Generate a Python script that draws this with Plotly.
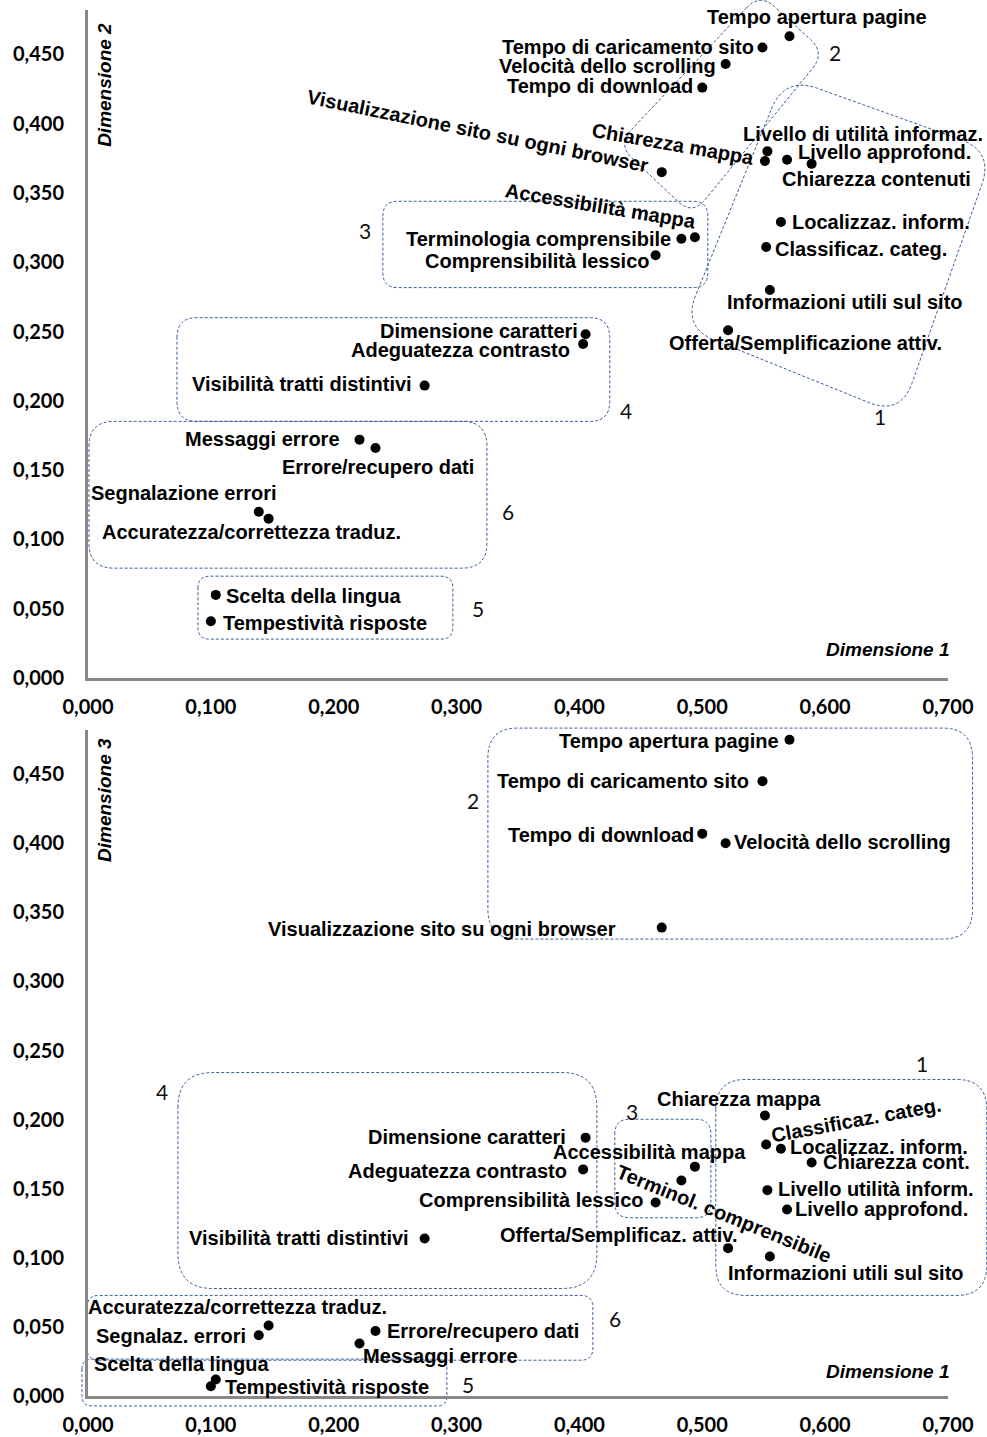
import plotly.graph_objects as go

# ---------------- data ----------------
labels_top = [
    "Tempo apertura pagine", "Tempo di caricamento sito", "Velocità dello scrolling",
    "Tempo di download", "Visualizzazione sito su ogni browser", "Chiarezza mappa",
    "Livello di utilità informaz.", "Livello approfond.", "Chiarezza contenuti",
    "Localizzaz. inform.", "Classificaz. categ.", "Informazioni utili sul sito",
    "Offerta/Semplificazione attiv.", "Accessibilità mappa", "Terminologia comprensibile",
    "Comprensibilità lessico", "Dimensione caratteri", "Adeguatezza contrasto",
    "Visibilità tratti distintivi", "Messaggi errore", "Errore/recupero dati",
    "Segnalazione errori", "Accuratezza/correttezza traduz.", "Scelta della lingua",
    "Tempestività risposte",
]
labels_bottom = [
    "Tempo apertura pagine", "Tempo di caricamento sito", "Velocità dello scrolling",
    "Tempo di download", "Visualizzazione sito su ogni browser", "Chiarezza mappa",
    "Livello utilità inform.", "Livello approfond.", "Chiarezza cont.",
    "Localizzaz. inform.", "Classificaz. categ.", "Informazioni utili sul sito",
    "Offerta/Semplificaz. attiv.", "Accessibilità mappa", "Terminol. comprensibile",
    "Comprensibilità lessico", "Dimensione caratteri", "Adeguatezza contrasto",
    "Visibilità tratti distintivi", "Messaggi errore", "Errore/recupero dati",
    "Segnalaz. errori", "Accuratezza/correttezza traduz.", "Scelta della lingua",
    "Tempestività risposte",
]
dim1 = [0.571, 0.549, 0.519, 0.500, 0.467, 0.551, 0.553, 0.569, 0.589, 0.564,
        0.552, 0.555, 0.521, 0.494, 0.483, 0.462, 0.405, 0.403, 0.274, 0.221,
        0.234, 0.139, 0.147, 0.104, 0.100]
dim2 = [0.463, 0.455, 0.443, 0.426, 0.365, 0.373, 0.380, 0.374, 0.371, 0.329,
        0.311, 0.280, 0.251, 0.318, 0.317, 0.305, 0.248, 0.241, 0.211, 0.172,
        0.166, 0.120, 0.115, 0.060, 0.041]
dim3 = [0.475, 0.445, 0.400, 0.407, 0.339, 0.203, 0.149, 0.135, 0.169, 0.179,
        0.182, 0.101, 0.107, 0.166, 0.156, 0.140, 0.187, 0.164, 0.114, 0.038,
        0.047, 0.044, 0.051, 0.012, 0.007]

x_tickvals = [0.0, 0.1, 0.2, 0.3, 0.4, 0.5, 0.6, 0.7]
x_ticktext = ["0,000", "0,100", "0,200", "0,300", "0,400", "0,500", "0,600", "0,700"]
y_tickvals = [0.0, 0.05, 0.10, 0.15, 0.20, 0.25, 0.30, 0.35, 0.40, 0.45]
y_ticktext = ["0,000", "0,050", "0,100", "0,150", "0,200", "0,250", "0,300", "0,350", "0,400", "0,450"]

group_names = ["1", "2", "3", "4", "5", "6"]

# ---------------- layout constants ----------------
W, H = 987, 1437
ML, MR, MT, MB = 88, 39, 10, 41
PW, PH = W - ML - MR, H - MT - MB
XMAX, YMAX = 0.70, 0.482
DOM_TOP = [0.518, 1.0]
DOM_BOT = [0.0, 0.4805]

LABEL_FONT = dict(family="Liberation Sans, Arial", size=20, color="black", weight="bold")
GROUP_FONT = dict(family="Lato, Open Sans", size=21, color="#111111")
TICK_FONT = dict(family="Lato, Open Sans", size=20, color="black", weight="bold")
TITLE_FONT = dict(family="Liberation Sans, Arial", size=19, color="black", weight="bold", style="italic")
SHAPE_LINE = dict(color="#3B5C99", width=1, dash="3px,2px")

# label placement: (xanchor, xshift, yshift, angle)
place_top = [
    ("center", 27, 19, 0), ("right", -6, 0, 0), ("right", -8, -2, 0), ("right", -7, 2, 0),
    ("center", -184, 41, 11.5), ("center", -92, 17, 10), ("center", 96, 17, 0),
    ("left", 9, 8, 0), ("center", 65, -15, 0), ("left", 9, 0, 0), ("left", 7, -2, 0),
    ("center", 75, -12, 0), ("center", 77, -13, 0), ("center", -94, 31, 9.5),
    ("right", -8, 0, 0), ("right", -4, -6, 0), ("right", -6, 3, 0), ("right", -11, -6, 0),
    ("right", -11, 2, 0), ("right", -18, 1, 0), ("center", 3, -19, 0), ("center", -75, 19, 0),
    ("center", -17, -13, 0), ("left", 8, -1, 0), ("left", 10, -2, 0),
]
place_bot = [
    ("right", -9, -1, 0), ("right", -11, 0, 0), ("left", 6, 1, 0), ("right", -6, -1, 0),
    ("right", -44, -1, 0), ("center", -26, 17, 0), ("left", 9, 1, 0), ("left", 6, 0, 0),
    ("left", 9, 0, 0), ("left", 7, 2, 0), ("center", 90, 25, -10.5), ("center", 76, -17, 0),
    ("center", -110, 13, 0), ("center", -45, 15, 0), ("center", 43, -34, 22),
    ("right", -10, 3, 0), ("right", -18, 1, 0), ("right", -14, -2, 0), ("right", -14, 0, 0),
    ("center", 81, -13, 0), ("left", 10, 0, 0), ("right", -11, -1, 0), ("center", -31, 19, 0),
    ("center", -34, 15, 0), ("left", 12, -1, 0),
]

# group outlines in data coordinates: (vertices, corner radius px)
groups_top = [
    ([(0.567, 0.434), (0.737, 0.380), (0.6615, 0.1895), (0.484, 0.253)], 35),   # 1
    ([(0.547, 0.494), (0.600, 0.451), (0.492, 0.334), (0.431, 0.385)], 20),     # 2
    ([(0.240, 0.344), (0.5045, 0.344), (0.5045, 0.2817), (0.240, 0.2817)], 15), # 3
    ([(0.0724, 0.260), (0.4247, 0.260), (0.4247, 0.1852), (0.0724, 0.1852)], 20),  # 4
    ([(0.0895, 0.0735), (0.297, 0.0735), (0.297, 0.0281), (0.0895, 0.0281)], 12),  # 5
    ([(0.0008, 0.1852), (0.3247, 0.1852), (0.3247, 0.0793), (0.0008, 0.0793)], 25),  # 6
]
groups_bot = [
    ([(0.511, 0.2291), (0.7315, 0.2291), (0.7315, 0.0728), (0.511, 0.0728)], 30),  # 1
    ([(0.3255, 0.4834), (0.720, 0.4834), (0.720, 0.3307), (0.3255, 0.3307)], 30),  # 2
    ([(0.4288, 0.2003), (0.507, 0.2003), (0.507, 0.129), (0.4288, 0.129)], 15),    # 3
    ([(0.0732, 0.2341), (0.4142, 0.2341), (0.4142, 0.0778), (0.0732, 0.0778)], 35),  # 4
    ([(-0.0049, 0.0267), (0.2921, 0.0267), (0.2921, -0.0072), (-0.0049, -0.0072)], 10),  # 5
    ([(-0.0008, 0.0728), (0.4109, 0.0728), (0.4109, 0.0259), (-0.0008, 0.0259)], 12),  # 6
]
group_pos_top = [(0.6444, 0.1888), (0.6078, 0.451), (0.2254, 0.3228),
                 (0.4378, 0.1931), (0.3173, 0.0504), (0.3417, 0.1203)]
group_pos_bot = [(0.6786, 0.2406), (0.3133, 0.4308), (0.4426, 0.2061),
                 (0.0602, 0.2205), (0.3092, 0.0086), (0.4288, 0.0562)]


def to_px(x, y, dom):
    X = x / XMAX * PW
    Y = (dom[0] + y / YMAX * (dom[1] - dom[0])) * PH
    return X, Y


def rounded_path(verts, r, dom):
    pts = [to_px(x, y, dom) for x, y in verts]
    n = len(pts)
    segs = []
    for i in range(n):
        px, py = pts[i]
        ax, ay = pts[i - 1]
        bx, by = pts[(i + 1) % n]
        da = ((ax - px) ** 2 + (ay - py) ** 2) ** 0.5
        db = ((bx - px) ** 2 + (by - py) ** 2) ** 0.5
        rr = min(r, da / 2, db / 2)
        A = (px + (ax - px) / da * rr, py + (ay - py) / da * rr)
        B = (px + (bx - px) / db * rr, py + (by - py) / db * rr)
        segs.append((A, (px, py), B))
    f = lambda p: f"{p[0] / PW:.5f},{p[1] / PH:.5f}"
    d = f"M{f(segs[0][0])} Q{f(segs[0][1])} {f(segs[0][2])}"
    for A, P, B in segs[1:]:
        d += f" L{f(A)} Q{f(P)} {f(B)}"
    d += f" L{f(segs[0][0])} Z"
    return d


fig = go.Figure()
fig.add_trace(go.Scatter(x=dim1, y=dim2, mode="markers", xaxis="x", yaxis="y",
                         marker=dict(size=10, color="black"), hoverinfo="text",
                         text=labels_top, showlegend=False))
fig.add_trace(go.Scatter(x=dim1, y=dim3, mode="markers", xaxis="x2", yaxis="y2",
                         marker=dict(size=10, color="black"), hoverinfo="text",
                         text=labels_bottom, showlegend=False))

shapes = []
for verts, r in groups_top:
    shapes.append(dict(type="path", xref="paper", yref="paper",
                       path=rounded_path(verts, r, DOM_TOP), line=SHAPE_LINE, layer="below"))
for verts, r in groups_bot:
    shapes.append(dict(type="path", xref="paper", yref="paper",
                       path=rounded_path(verts, r, DOM_BOT), line=SHAPE_LINE, layer="below"))

ann = []
for lab, x, y, (xa, dx, dy, ang) in zip(labels_top, dim1, dim2, place_top):
    ann.append(dict(x=x, y=y, xref="x", yref="y", text=lab, showarrow=False,
                    xanchor=xa, yanchor="middle", xshift=dx, yshift=dy, textangle=ang,
                    font=LABEL_FONT))
for lab, x, y, (xa, dx, dy, ang) in zip(labels_bottom, dim1, dim3, place_bot):
    ann.append(dict(x=x, y=y, xref="x2", yref="y2", text=lab, showarrow=False,
                    xanchor=xa, yanchor="middle", xshift=dx, yshift=dy, textangle=ang,
                    font=LABEL_FONT))
for g, (x, y) in zip(group_names, group_pos_top):
    ann.append(dict(x=x, y=y, xref="x", yref="y", text=g, showarrow=False,
                    xanchor="center", yanchor="middle", font=GROUP_FONT))
for g, (x, y) in zip(group_names, group_pos_bot):
    ann.append(dict(x=x, y=y, xref="x2", yref="y2", text=g, showarrow=False,
                    xanchor="center", yanchor="middle", font=GROUP_FONT))

# axis titles
ann.append(dict(x=0.0198, y=0.888, xref="x domain", yref="y domain", text="Dimensione 2",
                textangle=-90, showarrow=False, xanchor="center", yanchor="middle",
                font=TITLE_FONT))
ann.append(dict(x=0.0198, y=0.895, xref="x2 domain", yref="y2 domain", text="Dimensione 3",
                textangle=-90, showarrow=False, xanchor="center", yanchor="middle",
                font=TITLE_FONT))
ann.append(dict(x=1.005, y=0.0434, xref="x domain", yref="y domain", text="Dimensione 1",
                xanchor="right", yanchor="middle", showarrow=False, font=TITLE_FONT))
ann.append(dict(x=1.005, y=0.0375, xref="x2 domain", yref="y2 domain", text="Dimensione 1",
                xanchor="right", yanchor="middle", showarrow=False, font=TITLE_FONT))

axis_common = dict(showline=True, linecolor="#888888", linewidth=3, showgrid=False,
                   zeroline=False, ticks="", tickfont=TICK_FONT, fixedrange=True,
                   automargin=False)

fig.update_layout(
    width=W, height=H,
    margin=dict(l=ML, r=MR, t=MT, b=MB, autoexpand=False),
    paper_bgcolor="white", plot_bgcolor="white",
    showlegend=False,
    xaxis=dict(domain=[0, 1], anchor="y", range=[0, XMAX], tickvals=x_tickvals,
               ticktext=x_ticktext, ticklabelstandoff=9, **axis_common),
    yaxis=dict(domain=DOM_TOP, anchor="x", range=[0, YMAX], tickvals=y_tickvals,
               ticktext=y_ticktext, ticklabelstandoff=17, **axis_common),
    xaxis2=dict(domain=[0, 1], anchor="y2", range=[0, XMAX], tickvals=x_tickvals,
                ticktext=x_ticktext, ticklabelstandoff=9, **axis_common),
    yaxis2=dict(domain=DOM_BOT, anchor="x2", range=[0, YMAX], tickvals=y_tickvals,
                ticktext=y_ticktext, ticklabelstandoff=17, **axis_common),
    shapes=shapes,
    annotations=ann,
)

fig.write_html("out.html", config={"displayModeBar": False},
               post_script="document.body.style.margin='0px';")
